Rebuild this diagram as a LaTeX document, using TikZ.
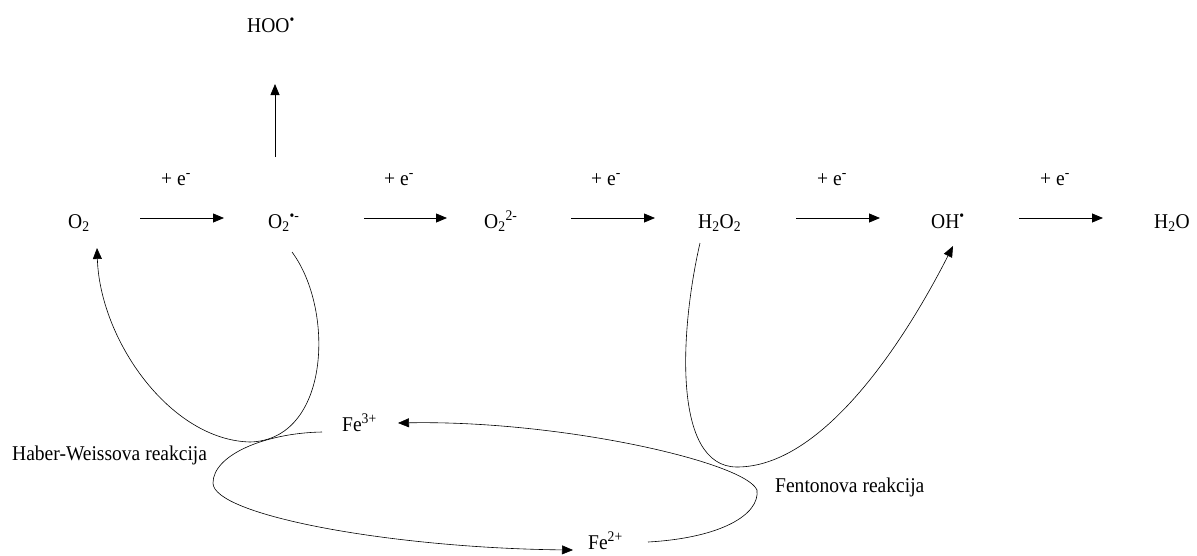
\documentclass[tikz,border=0pt]{standalone}
\usepackage{fontspec}
\setmainfont{Liberation Serif}[FakeStretch=0.93]
\usetikzlibrary{arrows.meta}
\begin{document}
\begin{tikzpicture}[x=1pt,y=-1pt,
  lbl/.style={anchor=base west,inner sep=0pt,font=\fontsize{21}{25}\selectfont},
  arr/.style={line width=0.8pt,-{Triangle[length=11pt,width=9pt]}},
  crv/.style={line width=0.6pt}]
\useasboundingbox (0,0) rectangle (1197,555);
% row species
\node[lbl] (o2)   at (68,228)  {O\textsubscript{2}};
\node[lbl] (o2r)  at (268,228) {O\textsubscript{2}\textsuperscript{•-}};
\node[lbl] (o2p)  at (484,228) {O\textsubscript{2}\textsuperscript{2-}};
\node[lbl] (h2o2) at (698,228) {H\textsubscript{2}O\textsubscript{2}};
\node[lbl] (oh)   at (931,228) {OH\textsuperscript{•}};
\node[lbl] (h2o)  at (1154,228) {H\textsubscript{2}O};
\node[lbl] (hoo)  at (247,32)  {HOO\textsuperscript{•}};
% electron labels
\node[lbl] (e1) at (161,185) {+ e\textsuperscript{-}};
\node[lbl] (e2) at (384,185) {+ e\textsuperscript{-}};
\node[lbl] (e3) at (591,185) {+ e\textsuperscript{-}};
\node[lbl] (e4) at (817,185) {+ e\textsuperscript{-}};
\node[lbl] (e5) at (1040,185) {+ e\textsuperscript{-}};
% iron and reaction labels
\node[lbl] (fe3) at (342,431) {Fe\textsuperscript{3+}};
\node[lbl] (fe2) at (588,549) {Fe\textsuperscript{2+}};
\node[lbl] (hw)  at (12,460)  {Haber-Weissova reakcija};
\node[lbl] (fen) at (775,492) {Fentonova reakcija};
% main chain arrows
\draw[arr] ([xshift=72pt,yshift=10pt]o2.base west) -- ([xshift=-44pt,yshift=10pt]o2r.base west);
\draw[arr] ([xshift=96pt,yshift=10pt]o2r.base west) -- ([xshift=-37pt,yshift=10pt]o2p.base west);
\draw[arr] ([xshift=87pt,yshift=10pt]o2p.base west) -- ([xshift=-43pt,yshift=10pt]h2o2.base west);
\draw[arr] ([xshift=98pt,yshift=10pt]h2o2.base west) -- ([xshift=-51pt,yshift=10pt]oh.base west);
\draw[arr] ([xshift=88pt,yshift=10pt]oh.base west) -- ([xshift=-51pt,yshift=10pt]h2o.base west);
% protonation arrow
\draw[arr] ([xshift=7pt,yshift=71pt]o2r.base west) -- ([xshift=28pt,yshift=-52pt]hoo.base west);
% Haber-Weiss loop
\draw[crv] ([xshift=24pt,yshift=-24pt]o2r.base west)
  .. controls (335,310) and (330,440) .. (250,442);
\draw[crv,arr,line width=0.6pt] (250,442) .. controls (170,440) and (100,340) .. ([xshift=29pt,yshift=-20pt]o2.base west);
% Fenton loop
\draw[crv] ([xshift=2pt,yshift=-15pt]h2o2.base west)
  .. controls (680,330) and (672,467) .. (737,467);
\draw[crv,arr,line width=0.6pt] (737,467) .. controls (820,467) and (900,350) .. ([xshift=22pt,yshift=-18pt]oh.base west);
% iron cycle
\draw[crv,arr,line width=0.6pt] ([xshift=-20pt,yshift=-1pt]fe3.base west)
  .. controls (265,433) and (213,455) .. (213,483)
  .. controls (213,515) and (390,548) .. ([xshift=-15pt,yshift=-1pt]fe2.base west);
\draw[crv,arr,line width=0.6pt] ([xshift=60pt,yshift=7pt]fe2.base west)
  .. controls (720,538) and (760,515) .. (757,490)
  .. controls (745,462) and (560,420) .. ([xshift=56pt,yshift=8pt]fe3.base west);
\end{tikzpicture}
\end{document}
